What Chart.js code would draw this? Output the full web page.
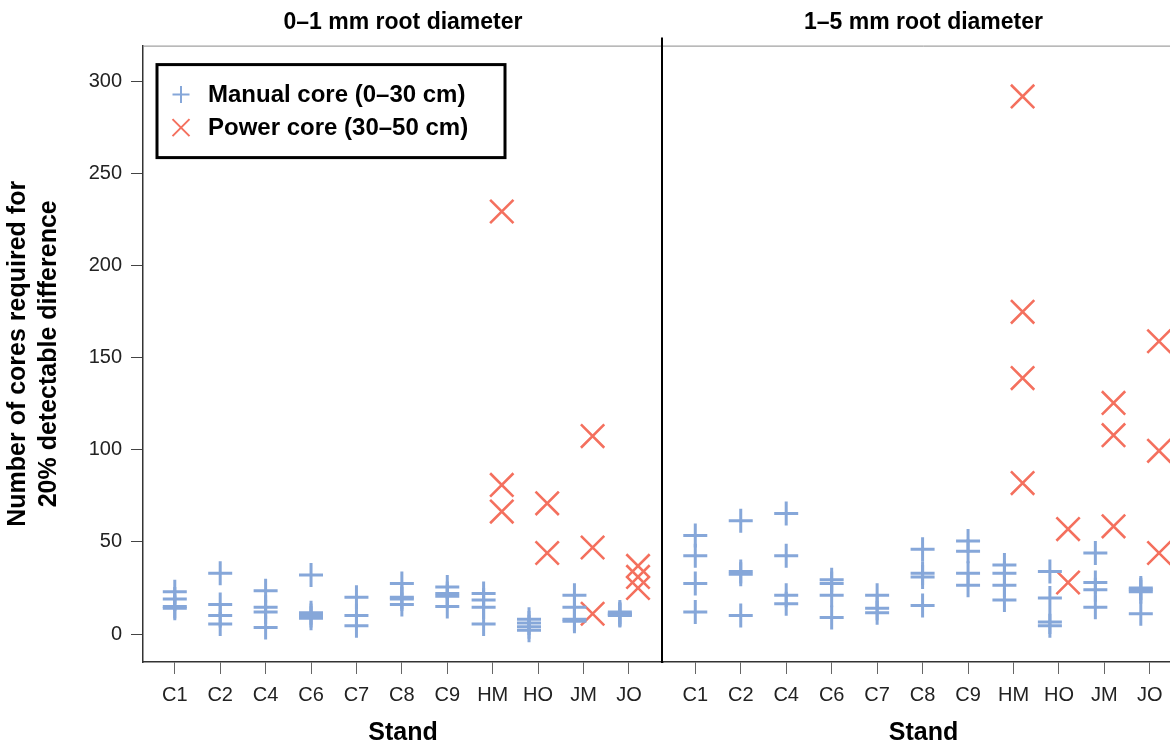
<!DOCTYPE html>
<html>
<head>
<meta charset="utf-8">
<script src="https://cdn.jsdelivr.net/npm/chart.js@4.4.1/dist/chart.umd.min.js"></script>
<style>
  html, body { margin: 0; padding: 0; background: #fff; overflow: hidden; width: 1170px; height: 748px; }
  #leftPanel { position: absolute; left: 0; top: 0; }
  #rightPanel { position: absolute; left: 663px; top: 0; }
</style>
</head>
<body>
<canvas id="leftPanel" width="665" height="748"></canvas>
<canvas id="rightPanel" width="521" height="748"></canvas>
<script>
// ---------- data ----------
const stands = ['C1', 'C2', 'C4', 'C6', 'C7', 'C8', 'C9', 'HM', 'HO', 'JM', 'JO'];
const panelTitles = ['0–1 mm root diameter', '1–5 mm root diameter'];
const seriesNames = ['Manual core (0–30 cm)', 'Power core (30–50 cm)'];
const yTickValues = [0, 50, 100, 150, 200, 250, 300];
const yAxisTitle = ['Number of cores required for', '20% detectable difference'];
const xAxisTitle = 'Stand';

// 0–1 mm root diameter
const manualFine = [
  [23, 19, 15, 14],
  [33, 16, 10, 5.5],
  [23.5, 14.5, 12, 3.5],
  [32, 11.5, 10, 8.5],
  [20, 10, 4.5],
  [27.5, 20, 19, 16],
  [25.5, 22, 20.5, 15],
  [22, 18.5, 14.5, 5.5],
  [8, 6, 4, 2],
  [21, 14.5, 8, 7],
  [12, 11, 10.5, 10]
];
const powerFine = [
  [], [], [], [], [], [], [],
  [229.5, 81, 66.5],
  [71, 44],
  [107.5, 47, 11],
  [37, 31, 25]
];

// 1–5 mm root diameter
const manualCoarse = [
  [53.5, 42.5, 27.5, 12],
  [61.5, 34, 32.5, 10],
  [65.5, 42.5, 21, 16.5],
  [29.5, 27.5, 21, 9],
  [21, 14, 11.5],
  [46, 33, 31, 15.5],
  [50.5, 45, 33, 26.5],
  [37.5, 33, 26.5, 18.5],
  [34, 19.5, 6.5, 4.5],
  [44, 28, 24, 14.5],
  [25, 24, 23, 11]
];
const powerCoarse = [
  [], [], [], [], [], [], [],
  [292, 175, 139, 82],
  [57, 28],
  [125.5, 108, 58.5],
  [159, 99.5, 44]
];

// ---------- styles ----------
const FONT = "'Liberation Sans', Arial, Helvetica, sans-serif";
const BLUE = '#86A7D9';
const RED = '#F4705E';
const CLUSTER = 0.2; // half-distance between grouped markers in a category

function buildPoints(values, other, side) {
  const pts = [];
  values.forEach((list, i) => {
    const off = (list.length && other[i].length) ? side * CLUSTER : 0;
    list.forEach(v => pts.push({ x: i + off, y: v }));
  });
  return pts;
}

const framePlugin = {
  id: 'frame',
  afterDraw(chart, args, opts) {
    const { ctx, chartArea: a } = chart;
    ctx.save();
    ctx.strokeStyle = '#8a8a8a';
    ctx.lineWidth = 1;
    ctx.beginPath();
    ctx.moveTo(a.left, a.top + 0.5);
    ctx.lineTo(a.right, a.top + 0.5);
    ctx.stroke();
    if (opts.divider) {
      ctx.strokeStyle = '#000';
      ctx.lineWidth = 2;
      ctx.beginPath();
      ctx.moveTo(a.right - 1, a.top - 8);
      ctx.lineTo(a.right - 1, a.bottom + 1);
      ctx.stroke();
    }
    ctx.restore();
  }
};

const legendPlugin = {
  id: 'boxLegend',
  afterDatasetsDraw(chart, args, opts) {
    if (!opts.show) return;
    const { ctx, chartArea: a } = chart;
    const x = a.left + 14, y = a.top + 19, w = 348, h = 93;
    ctx.save();
    ctx.fillStyle = '#fff';
    ctx.fillRect(x, y, w, h);
    ctx.lineWidth = 3;
    ctx.strokeStyle = '#000';
    ctx.strokeRect(x, y, w, h);
    chart.data.datasets.forEach((ds, i) => {
      const cx = x + 24, cy = y + 30 + i * 33;
      const r = 8.5;
      ctx.strokeStyle = ds.pointBorderColor;
      ctx.lineWidth = 2;
      ctx.beginPath();
      if (ds.pointStyle === 'cross') {
        ctx.moveTo(cx - r, cy); ctx.lineTo(cx + r, cy);
        ctx.moveTo(cx, cy - r); ctx.lineTo(cx, cy + r);
      } else {
        ctx.moveTo(cx - r, cy - r); ctx.lineTo(cx + r, cy + r);
        ctx.moveTo(cx + r, cy - r); ctx.lineTo(cx - r, cy + r);
      }
      ctx.stroke();
      ctx.fillStyle = '#000';
      ctx.font = 'bold 24px ' + FONT;
      ctx.textBaseline = 'middle';
      ctx.textAlign = 'left';
      ctx.fillText(ds.label, x + 51, cy + 1);
    });
    ctx.restore();
  }
};

function makeConfig(manual, power, title, isLeft, xMin, xMax) {
  return {
    type: 'scatter',
    data: {
      datasets: [
        {
          label: seriesNames[0],
          data: buildPoints(manual, power, -1),
          pointStyle: 'cross',
          pointRadius: 12,
          pointHoverRadius: 12,
          pointBorderWidth: 3,
          pointBorderColor: BLUE,
          pointBackgroundColor: BLUE,
          borderColor: BLUE
        },
        {
          label: seriesNames[1],
          data: buildPoints(power, manual, 1),
          pointStyle: 'crossRot',
          pointRadius: 16.5,
          pointHoverRadius: 16.5,
          pointBorderWidth: 2.6,
          pointBorderColor: RED,
          pointBackgroundColor: RED,
          borderColor: RED
        }
      ]
    },
    options: {
      responsive: false,
      animation: false,
      events: [],
      layout: { autoPadding: false, padding: { left: 0, right: isLeft ? 2 : 0, top: 0, bottom: 0 } },
      plugins: {
        legend: { display: false },
        tooltip: { enabled: false },
        title: {
          display: true,
          text: title,
          fullSize: false,
          color: '#000',
          font: { family: FONT, size: 23, weight: 'bold', lineHeight: 1.2 },
          padding: { top: 9, bottom: 9 }
        },
        frame: { divider: isLeft },
        boxLegend: { show: isLeft }
      },
      scales: {
        x: {
          type: 'linear',
          min: xMin,
          max: xMax,
          afterBuildTicks: s => { s.ticks = stands.map((_, i) => ({ value: i })); },
          afterFit: s => { s.height = 86; },
          grid: { display: true, drawOnChartArea: false, drawTicks: true, tickLength: 12, tickColor: '#666', tickWidth: 1 },
          border: { display: true, color: '#333', width: 1.5 },
          ticks: {
            autoSkip: false,
            maxRotation: 0,
            padding: 9,
            color: '#222',
            font: { family: FONT, size: 20 },
            callback: v => stands[v]
          },
          title: {
            display: true,
            text: xAxisTitle,
            color: '#000',
            font: { family: FONT, size: 25, weight: 'bold', lineHeight: 1.2 },
            padding: { top: 0, bottom: 0 }
          }
        },
        y: {
          display: isLeft,
          min: -15.2,
          max: 319.6,
          afterBuildTicks: s => { s.ticks = yTickValues.map(v => ({ value: v })); },
          afterFit: s => { s.width = isLeft ? 143 : 0; },
          grid: { display: true, drawOnChartArea: false, drawTicks: true, tickLength: 12, tickColor: '#444', tickWidth: 1 },
          border: { display: true, color: '#333', width: 1.5 },
          ticks: {
            padding: 9,
            color: '#222',
            font: { family: FONT, size: 20 }
          },
          title: {
            display: true,
            text: yAxisTitle,
            color: '#000',
            font: { family: FONT, size: 25, weight: 'bold', lineHeight: 1.25 },
            padding: { top: 2, bottom: 0 }
          }
        }
      }
    },
    plugins: [framePlugin, legendPlugin]
  };
}

new Chart(document.getElementById('leftPanel'),
  makeConfig(manualFine, powerFine, panelTitles[0], true, -0.7, 10.75));
new Chart(document.getElementById('rightPanel'),
  makeConfig(manualCoarse, powerCoarse, panelTitles[1], false, -0.71, 10.75));
</script>
</body>
</html>
